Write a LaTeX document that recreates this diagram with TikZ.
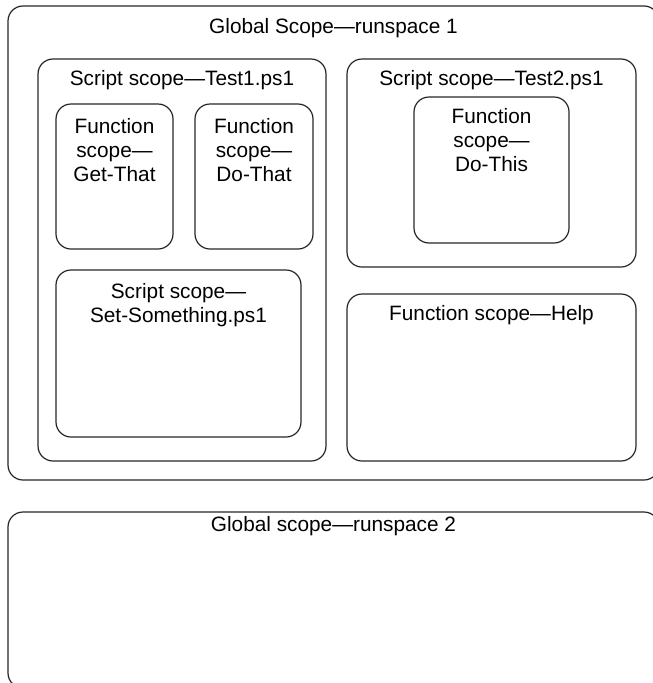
\documentclass[tikz,border=0pt]{standalone}
\usepackage{fontspec}
\setmainfont{Liberation Sans}
\begin{document}
\begin{tikzpicture}[x=1pt,y=-1pt,
  box/.style={draw=black!85, line width=1.2pt, rounded corners=15pt, inner sep=0pt, outer sep=0pt},
  lbl/.style={font=\fontsize{20.8}{24}\selectfont, align=center, inner sep=0pt, anchor=base}]
\useasboundingbox (0,0) rectangle (653,683);
\clip (0,0) rectangle (653,683);
\node[box, minimum width=651pt, minimum height=474pt] (g1) at (333.5,243) {};
\node[box, minimum width=651pt, minimum height=176pt] (g2) at (333.5,600) {};
\node[box, minimum width=288pt, minimum height=402pt] (t1) at (182,260) {};
\node[box, minimum width=117pt, minimum height=145pt] (gt) at (114.5,176.5) {};
\node[box, minimum width=118pt, minimum height=145pt] (dt) at (254,176.5) {};
\node[box, minimum width=245pt, minimum height=167pt] (ss) at (178.5,353.5) {};
\node[box, minimum width=289pt, minimum height=208pt] (t2) at (491.5,163) {};
\node[box, minimum width=155pt, minimum height=146pt] (dth) at (491.5,170) {};
\node[box, minimum width=289pt, minimum height=167pt] (hp) at (491.5,377.5) {};
\node[lbl] (g1l) at (333.5,33) {Global Scope—runspace 1};
\node[lbl] (g2l) at (333.5,531) {Global scope—runspace 2};
\node[lbl] (t1l) at (182,85) {Script scope—Test1.ps1};
\node[lbl] (t2l) at (491.5,85) {Script scope—Test2.ps1};
\node[lbl] (gtl) at (114.5,181) {Function\\scope—\\Get-That};
\node[lbl] (dtl) at (254,181) {Function\\scope—\\Do-That};
\node[lbl] (dthl) at (491.5,171) {Function\\scope—\\Do-This};
\node[lbl] (ssl) at (178.5,322) {Script scope—\\Set-Something.ps1};
\node[lbl] (hpl) at (491.5,320) {Function scope—Help};
\end{tikzpicture}
\end{document}
